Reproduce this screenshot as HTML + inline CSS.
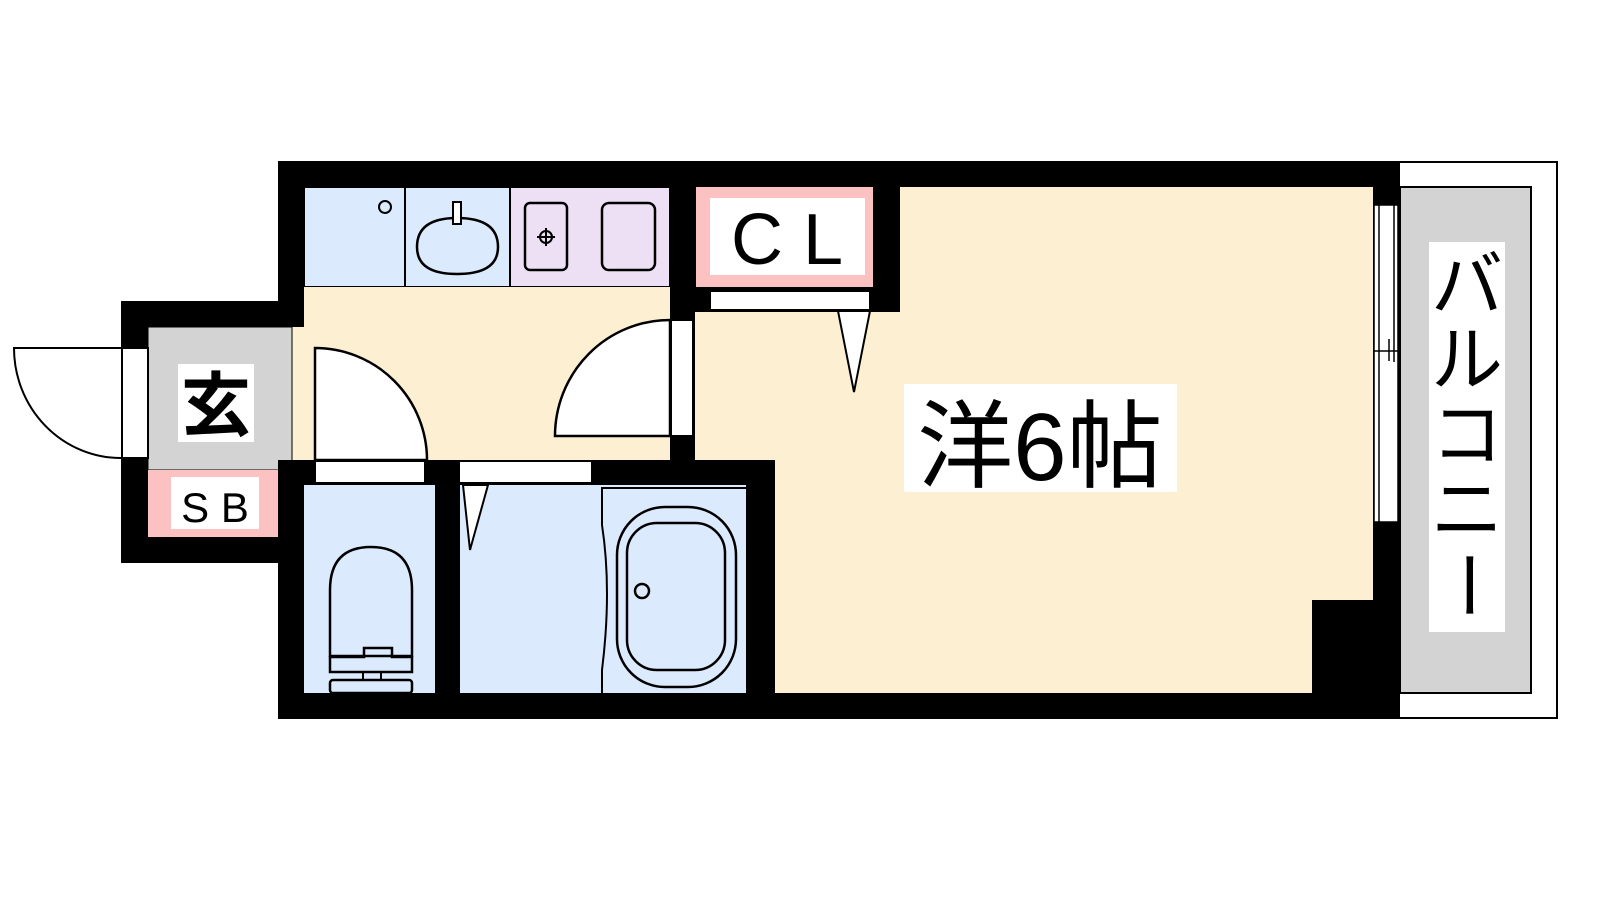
<!DOCTYPE html>
<html><head><meta charset="utf-8"><style>html,body{margin:0;padding:0;background:#fff;width:1600px;height:900px;overflow:hidden}</style></head>
<body>
<svg width="1600" height="900" viewBox="0 0 1600 900" xmlns="http://www.w3.org/2000/svg">
<rect width="1600" height="900" fill="#fff"/>
<rect x="1390" y="162" width="167" height="556" fill="#fff" stroke="#000" stroke-width="2"/>
<rect x="1400" y="187" width="131" height="506" fill="#d3d3d3" stroke="#000" stroke-width="2"/>
<rect x="278" y="161" width="1122" height="558" fill="#000"/>
<rect x="121" y="301" width="183" height="262" fill="#000"/>
<rect x="304" y="187" width="206" height="100" fill="#dbeafd" stroke="#000" stroke-width="2"/>
<line x1="405" y1="187" x2="405" y2="287" stroke="#000" stroke-width="2"/>
<rect x="510" y="187" width="160" height="100" fill="#ede0f5" stroke="#000" stroke-width="2"/>
<circle cx="385" cy="207" r="6" fill="none" stroke="#000" stroke-width="2"/>
<path d="M417 247 Q417 218 457 218 Q498 218 498 247 Q498 274 457 274 Q417 274 417 247Z" fill="none" stroke="#000" stroke-width="2.5"/>
<rect x="453" y="202" width="8" height="22" fill="#fff" stroke="#000" stroke-width="2"/>
<rect x="525" y="203" width="42" height="67" rx="5" fill="none" stroke="#000" stroke-width="2.5"/>
<circle cx="546" cy="237" r="6" fill="none" stroke="#000" stroke-width="2"/>
<line x1="546" y1="228" x2="546" y2="246" stroke="#000" stroke-width="2"/>
<line x1="537" y1="237" x2="555" y2="237" stroke="#000" stroke-width="2"/>
<rect x="602" y="203" width="53" height="67" rx="7" fill="none" stroke="#000" stroke-width="2.5"/>
<rect x="292" y="287" width="378" height="173" fill="#fdf0d2"/>
<rect x="278" y="287" width="26" height="40" fill="#000"/>
<rect x="148" y="327" width="144" height="143" fill="#d3d3d3" stroke="#000" stroke-width="1"/>
<rect x="148" y="470" width="130" height="67" fill="#fcc1c1"/>
<rect x="278" y="460" width="26" height="103" fill="#000"/>
<rect x="178" y="364" width="76" height="78" fill="#fff"/>
<text x="216" y="430" font-family="Liberation Sans,'Noto Sans CJK JP',sans-serif" font-size="70" font-weight="bold" text-anchor="middle">玄</text>
<rect x="171" y="477" width="88" height="52" fill="#fff"/>
<text x="215" y="522" font-family="Liberation Sans,sans-serif" font-size="42" text-anchor="middle">S B</text>
<rect x="122" y="348" width="26" height="110" fill="#fff" stroke="#000" stroke-width="2"/>
<path d="M121 348 L14 348 A107 110 0 0 0 121 458" fill="#fff" stroke="#000" stroke-width="2"/>
<rect x="315" y="461" width="110" height="22" fill="#fff" stroke="#000" stroke-width="2"/>
<path d="M315 460 L315 348 A112 112 0 0 1 427 460 Z" fill="#fff" stroke="#000" stroke-width="2.5"/>
<rect x="459" y="461" width="133" height="22" fill="#fff" stroke="#000" stroke-width="2"/>
<rect x="900" y="187" width="473" height="506" fill="#fdf0d2"/>
<rect x="695" y="312" width="678" height="148" fill="#fdf0d2"/>
<rect x="775" y="460" width="598" height="233" fill="#fdf0d2"/>
<rect x="1312" y="600" width="61" height="93" fill="#000"/>
<rect x="671" y="320" width="22" height="116" fill="#fff" stroke="#000" stroke-width="2"/>
<path d="M670 436 L555 436 A115 116 0 0 1 670 320 Z" fill="#fff" stroke="#000" stroke-width="2.5"/>
<rect x="696" y="187" width="177" height="100" fill="#fcc1c1"/>
<rect x="710" y="198" width="155" height="77" fill="#fff"/>
<text x="787" y="264" font-family="Liberation Sans,sans-serif" font-size="72" text-anchor="middle">C L</text>
<rect x="710" y="291" width="160" height="19" fill="#fff" stroke="#000" stroke-width="2"/>
<path d="M838 311 L870 311 L854 392 Z" fill="#fff" stroke="#000" stroke-width="2"/>
<rect x="304" y="485" width="131" height="208" fill="#dbeafd"/>
<path d="M330 656 L330 590 Q330 547 371 547 Q412 547 412 590 L412 656 Z" fill="none" stroke="#000" stroke-width="2.5"/>
<path d="M330 656 L330 672 L412 672 L412 656 M330 657 L364 657 L364 648 L392 648 L392 657 L412 657" fill="none" stroke="#000" stroke-width="2.5"/>
<rect x="363" y="672" width="18" height="8" fill="none" stroke="#000" stroke-width="2"/>
<rect x="330" y="680" width="82" height="13" rx="3" fill="none" stroke="#000" stroke-width="2.5"/>
<rect x="460" y="485" width="286" height="208" fill="#dbeafd"/>
<path d="M463 485 L488 485 L470 550 Z" fill="#fff" stroke="#000" stroke-width="2"/>
<path d="M746 488 L602 488 L602 525 Q612 590 602 670 L602 693" fill="none" stroke="#000" stroke-width="2"/>
<rect x="617" y="507" width="119" height="180" rx="48" fill="none" stroke="#000" stroke-width="2.5"/>
<rect x="627" y="523" width="98" height="147" rx="30" fill="none" stroke="#000" stroke-width="2.5"/>
<circle cx="642" cy="591" r="7" fill="none" stroke="#000" stroke-width="2.5"/>
<rect x="1374" y="205" width="24" height="317" fill="#fff" stroke="#000" stroke-width="1.5"/>
<line x1="1379" y1="205" x2="1379" y2="522" stroke="#000" stroke-width="1.5"/>
<line x1="1394" y1="205" x2="1394" y2="362" stroke="#000" stroke-width="1.5"/>
<line x1="1374" y1="351" x2="1398" y2="351" stroke="#000" stroke-width="1.5"/>
<line x1="1389" y1="339" x2="1389" y2="361" stroke="#000" stroke-width="1.5"/>
<rect x="904" y="384" width="273" height="108" fill="#fff"/>
<text x="1040" y="480" font-family="Liberation Sans,'Noto Sans CJK JP',sans-serif" font-size="96" text-anchor="middle">洋6帖</text>
<rect x="1429" y="242" width="76" height="390" fill="#fff"/>
<g font-family="Liberation Sans,'Noto Sans CJK JP',sans-serif" font-size="72" text-anchor="middle">
<text x="1467" y="310">バ</text>
<text x="1467" y="385">ル</text>
<text x="1467" y="460">コ</text>
<text x="1467" y="535">ニ</text>
<text x="1467" y="610" transform="rotate(90 1467 585)">ー</text>
</g>
</svg>
</body></html>
